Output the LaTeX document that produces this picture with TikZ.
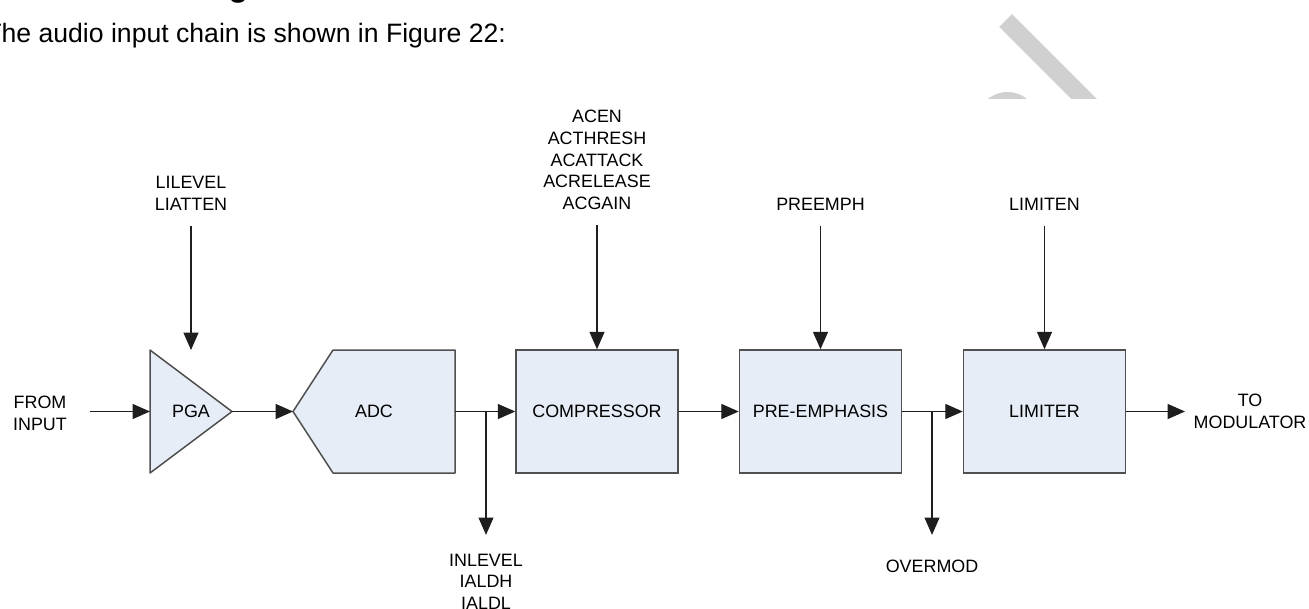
\documentclass[tikz,border=0pt]{standalone}
\usepackage{fontspec}
\setmainfont{Liberation Sans}
\usetikzlibrary{arrows.meta}
\definecolor{blockfill}{RGB}{230,237,247}
\definecolor{blockline}{RGB}{80,80,80}
\definecolor{wirecol}{RGB}{30,30,30}
\definecolor{wmark}{RGB}{208,208,208}
\tikzset{
  lbl/.style={font=\fontsize{8.95}{10.85}\selectfont, align=center, inner sep=0pt},
  block/.style={lbl, draw=blockline, fill=blockfill, line width=0.75pt,
    minimum width=81pt, minimum height=61.5pt},
  blockpath/.style={draw=blockline, fill=blockfill, line width=0.75pt, line join=round},
  wire/.style={draw=wirecol, line width=0.6pt},
  sig/.style={wire, -{Triangle[length=8.7pt,width=7.5pt]}},
}

\begin{document}
\begin{tikzpicture}[x=0.5pt,y=-0.5pt]
  \useasboundingbox (0,0) rectangle (1309,609);
  \clip (0,0) rectangle (1309,609);
  % page text and watermark
  \node[font=\bfseries\fontsize{16}{18}\selectfont, anchor=base, inner sep=0pt] (headg) at (238.5,-3.7) {g};
  \node[font=\fontsize{13.3}{16}\selectfont, anchor=base west, inner sep=0pt] (intro) at (-15,42.5)
    {The audio input chain is shown in Figure 22:};
  \begin{scope}
    \clip (900,0) rectangle (1200,99);
    \draw[wmark, line width=9pt] (1005.5,20.5) -- (1110,125);
    \fill[wmark] (1007.5,122.6) circle (15.3pt);
  \end{scope}
  % blocks
  \draw[blockpath] (150,350) -- (232,411.5) -- (150,473) -- cycle;
  \node[lbl] (pga) at (191,411.5) {PGA};
  \draw[blockpath] (293,411.5) -- (333,350) -- (455,350) -- (455,473) -- (333,473) -- cycle;
  \node[lbl] (adc) at (374,411.5) {ADC};
  \node[block] (comp) at (597,411.5) {COMPRESSOR};
  \node[block] (preemph) at (820.5,411.5) {PRE-EMPHASIS};
  \node[block] (limiter) at (1044.5,411.5) {LIMITER};
  \coordinate (pga-in) at (150,411.5);
  \coordinate (pga-out) at (232,411.5);
  \coordinate (pga-top) at (191,350);
  \coordinate (adc-in) at (293,411.5);
  \coordinate (adc-out) at (455,411.5);
  \coordinate (in-start) at (90,411.5);
  \coordinate (out-end) at (1185,411.5);
  \coordinate (brA) at (486,411.5);
  \coordinate (brB) at (932,411.5);
  % labels
  \node[lbl] (fromin) at (40,413) {FROM\\INPUT};
  \node[lbl] (tomod) at (1250,411) {TO\\MODULATOR};
  \node[lbl, anchor=south] (lilevel) at (191,210.5) {LILEVEL\\LIATTEN};
  \node[lbl, anchor=south] (acctl) at (597,210) {ACEN\\ACTHRESH\\ACATTACK\\ACRELEASE\\ACGAIN};
  \node[lbl, anchor=south] (preemphl) at (820.5,210.5) {PREEMPH};
  \node[lbl, anchor=south] (limitenl) at (1044.5,210.5) {LIMITEN};
  \node[lbl, anchor=north] (inlevel) at (486,553.5) {INLEVEL\\IALDH\\IALDL};
  \node[lbl, anchor=north] (overmod) at (932,559.5) {OVERMOD};
  % signal path
  \draw[sig] (in-start) -- (pga-in);
  \draw[sig] (pga-out) -- (adc-in);
  \draw[sig] (adc-out) -- (comp);
  \draw[sig] (comp) -- (preemph);
  \draw[sig] (preemph) -- (limiter);
  \draw[sig] (limiter) -- (out-end);
  % controls and status
  \draw[sig, shorten <=7.5pt] (lilevel.south) -- (pga-top);
  \draw[sig, shorten <=7.5pt] (acctl) -- (comp);
  \draw[sig, shorten <=7.5pt] (preemphl) -- (preemph);
  \draw[sig, shorten <=7.5pt] (limitenl) -- (limiter);
  \draw[sig, shorten >=9.3pt] (brA) -- (inlevel);
  \draw[sig, shorten >=12.3pt] (brB) -- (overmod);
\end{tikzpicture}
\end{document}
